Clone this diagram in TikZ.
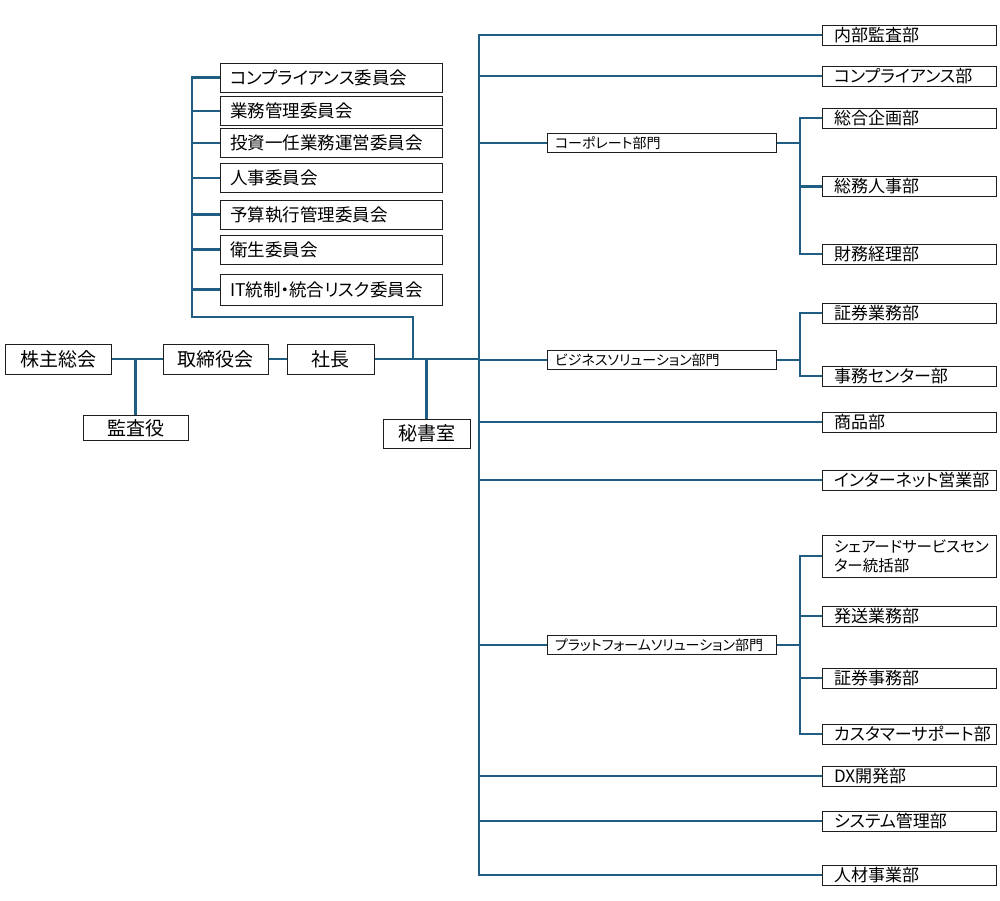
\documentclass[tikz,border=0pt]{standalone}
\usepackage{fontspec}
\setmainfont{Noto Sans CJK JP}[RawFeature={+palt}]
\usetikzlibrary{backgrounds}
\definecolor{linec}{RGB}{31,93,130}
\definecolor{boxc}{RGB}{30,30,30}
\tikzset{
  conn/.style={draw=linec, line width=2.6pt, line cap=rect},
  anybox/.style={draw=boxc, line width=1pt, fill=white, inner ysep=0pt},
  topbox/.style={anybox, font=\fontsize{19}{22}\selectfont, align=center, minimum height=30},
  combox/.style={anybox, font=\fontsize{17.5}{20}\selectfont, text width=202, inner xsep=10, align=left, minimum height=29},
  midbox/.style={anybox, font=\fontsize{14}{16}\selectfont, text width=213, inner xsep=8, align=left, minimum height=19},
  depbox/.style={anybox, font=\fontsize{17}{19}\selectfont, text width=150, inner xsep=12, align=left, minimum height=20},
}
\begin{document}
\begin{tikzpicture}[x=1pt,y=-1pt]
\useasboundingbox (0,0) rectangle (1000,900);
% left chain
\node[topbox, minimum width=106] (kabu) at (58,359) {株主総会};
\node[topbox, minimum width=105] (tori) at (215.5,359) {取締役会};
\node[topbox, minimum width=87] (shacho) at (330.5,359) {社長};
\node[topbox, minimum width=105, minimum height=25] (kansa) at (135.5,428) {監査役};
\node[topbox, minimum width=87, minimum height=29] (hisho) at (426.5,433.5) {秘書室};
% committees
\node[combox] (c1) at (331,77.5) {コンプライアンス委員会};
\node[combox] (c2) at (331,111) {業務管理委員会};
\node[combox] (c3) at (331,143) {投資一任業務運営委員会};
\node[combox] (c4) at (331,178) {人事委員会};
\node[combox] (c5) at (331,214.5) {予算執行管理委員会};
\node[combox] (c6) at (331,249.5) {衛生委員会};
\node[combox, minimum height=31] (c7) at (331,289.5) {IT統制・統合リスク委員会};
% middle divisions
\node[midbox] (corp) at (661.5,143) {コーポレート部門};
\node[midbox] (biz) at (661.5,360) {ビジネスソリューション部門};
\node[midbox] (plat) at (661.5,645) {プラットフォームソリューション部門};
% departments
\node[depbox] (naibu) at (909,35) {内部監査部};
\node[depbox] (comp) at (909,76) {コンプライアンス部};
\node[depbox] (sogo) at (909,118) {総合企画部};
\node[depbox] (somu) at (909,186.5) {総務人事部};
\node[depbox] (zaimu) at (909,254) {財務経理部};
\node[depbox] (shoken) at (909,313) {証券業務部};
\node[depbox] (jimu) at (909,376) {事務センター部};
\node[depbox] (shohin) at (909,422) {商品部};
\node[depbox] (inet) at (909,480) {インターネット営業部};
\node[depbox, minimum height=42, font=\fontsize{15.5}{19}\selectfont] (share) at (909,556) {シェアードサービスセン\\ター統括部};
\node[depbox] (haso) at (909,616) {発送業務部};
\node[depbox] (shojimu) at (909,678) {証券事務部};
\node[depbox] (cs) at (909,734) {カスタマーサポート部};
\node[depbox] (dx) at (909,776) {DX開発部};
\node[depbox] (sys) at (909,821) {システム管理部};
\node[depbox] (jinzai) at (909,875) {人材事業部};
% helper coordinates
\coordinate (trunk) at (479,359);
\coordinate (cj) at (413,359);
\coordinate (cb) at (192,317);
\coordinate (bx) at (800,0);
\begin{scope}[on background layer]
\fill[white] (0,0) rectangle (1000,900);
\draw[conn] (kabu.east) -- (tori.west);
\draw[conn] (kansa.north) -- (kansa.north |- kabu.east);
\draw[conn] (tori.east) -- (shacho.west);
\draw[conn] (shacho.east) -- (trunk);
\draw[conn] (hisho.north) -- (hisho.north |- shacho.east);
% committee bracket
\draw[conn] (cj) -- (cj |- cb) -- (cb) -- (cb |- c1.west);
\foreach \c in {c1,c2,c3,c4,c5,c6,c7} \draw[conn] (cb |- \c.west) -- (\c.west);
% trunk
\draw[conn] (trunk |- naibu.west) -- (trunk |- jinzai.west);
\foreach \d in {naibu,comp,corp,biz,shohin,inet,plat,dx,sys,jinzai} \draw[conn] (trunk |- \d.west) -- (\d.west);
% sub brackets
\draw[conn] (corp.east) -- (bx |- corp.east);
\draw[conn] (bx |- sogo.west) -- (bx |- zaimu.west);
\foreach \d in {sogo,somu,zaimu} \draw[conn] (bx |- \d.west) -- (\d.west);
\draw[conn] (biz.east) -- (bx |- biz.east);
\draw[conn] (bx |- shoken.west) -- (bx |- jimu.west);
\foreach \d in {shoken,jimu} \draw[conn] (bx |- \d.west) -- (\d.west);
\draw[conn] (plat.east) -- (bx |- plat.east);
\draw[conn] (bx |- share.west) -- (bx |- cs.west);
\foreach \d in {share,haso,shojimu,cs} \draw[conn] (bx |- \d.west) -- (\d.west);
\end{scope}
\end{tikzpicture}
\end{document}
